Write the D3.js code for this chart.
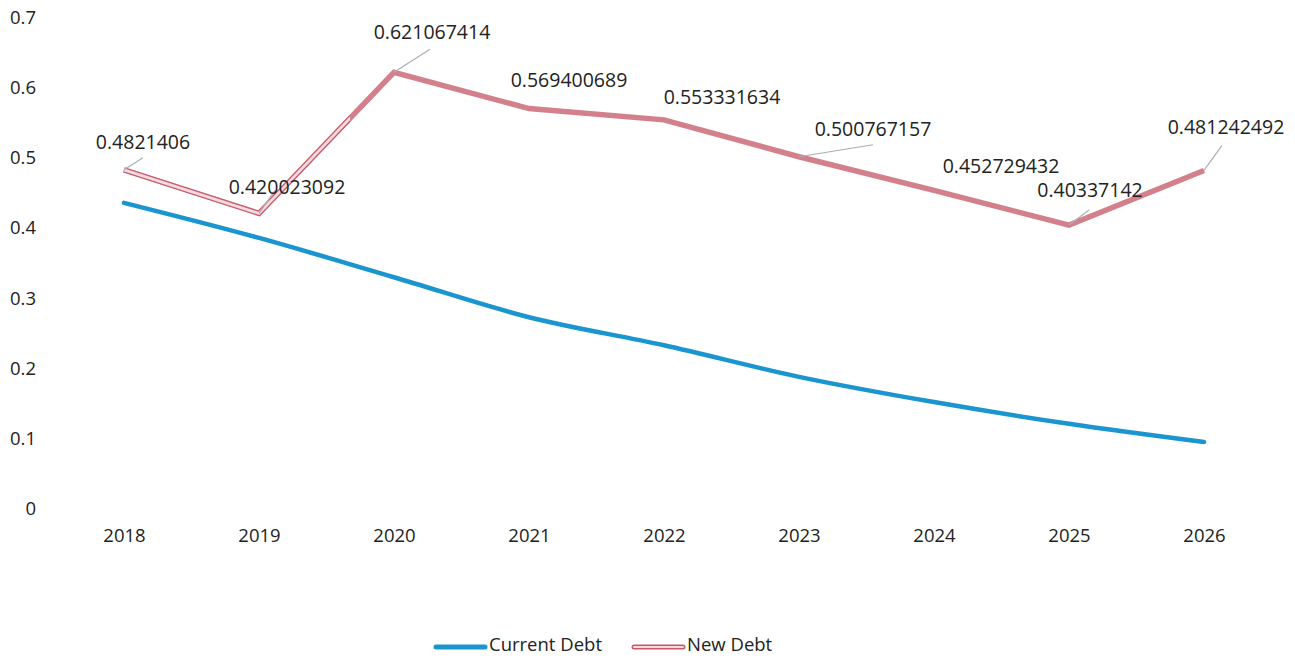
<!DOCTYPE html>
<html>
<head>
<meta charset="utf-8">
<script src="https://cdn.jsdelivr.net/npm/d3@7"></script>
<style>
  html, body { margin: 0; padding: 0; background: #ffffff; }
  svg { display: block; font-family: "Open Sans", sans-serif; }
</style>
</head>
<body>
<svg id="chart" width="1295" height="658"></svg>
<script>
// ---- data ----
const years = ["2018", "2019", "2020", "2021", "2022", "2023", "2024", "2025", "2026"];
const currentDebt = [0.435, 0.385, 0.329, 0.272, 0.232, 0.187, 0.151, 0.120, 0.094];
const newDebt = [0.4821406, 0.420023092, 0.621067414, 0.569400689, 0.553331634, 0.500767157, 0.452729432, 0.40337142, 0.481242492];
const newDebtLabels = ["0.4821406", "0.420023092", "0.621067414", "0.569400689", "0.553331634", "0.500767157", "0.452729432", "0.40337142", "0.481242492"];
const yTicks = [0, 0.1, 0.2, 0.3, 0.4, 0.5, 0.6, 0.7];
const seriesNames = ["Current Debt", "New Debt"];

// ---- layout (label placement relative to points) ----
const labelOffsets = [[19, -28], [28, -26], [38, -40], [40, -28], [58, -23], [74, -28], [67, -24], [21, -35], [22, -43]];
const leaderOffsets = [[19, -12], [16, -23], [36, -23], null, null, [74, -12], null, [20, -15], [18, -25]];

const blue = "#1a95cf";
const pink = "#d3808c";
const pinkDark = "#c8586b";

const svg = d3.select("#chart");

const x = d3.scalePoint().domain(years).range([124, 1204]);
const y = d3.scaleLinear().domain([0, 0.7]).range([508, 17]);

// y axis
const yAxis = svg.append("g")
  .attr("transform", "translate(36,0)")
  .call(d3.axisLeft(y).tickValues(yTicks).tickSize(0).tickPadding(0)
    .tickFormat(d => d === 0 ? "0" : d3.format(".1f")(d)));
yAxis.select(".domain").remove();
yAxis.selectAll("text")
  .attr("font-family", "Open Sans, sans-serif")
  .attr("font-size", "18.5px")
  .attr("fill", "#222")
  .attr("dy", "0.35em");

// x axis
const xAxis = svg.append("g")
  .attr("transform", "translate(0,536)")
  .call(d3.axisBottom(x).tickSize(0).tickPadding(0));
xAxis.select(".domain").remove();
xAxis.selectAll("text")
  .attr("font-family", "Open Sans, sans-serif")
  .attr("font-size", "18.5px")
  .attr("fill", "#222")
  .attr("dy", "0.35em");

// current debt line
const curLine = d3.line()
  .x((d, i) => x(years[i]))
  .y(d => y(d))
  .curve(d3.curveMonotoneX);

svg.append("path")
  .datum(currentDebt)
  .attr("d", curLine)
  .attr("fill", "none")
  .attr("stroke", blue)
  .attr("stroke-width", 4.5)
  .attr("stroke-linecap", "round")
  .attr("stroke-linejoin", "round");

// new debt line
const newLine = d3.line()
  .x((d, i) => x(years[i]))
  .y(d => y(d));

svg.append("path")
  .datum(newDebt)
  .attr("d", newLine)
  .attr("fill", "none")
  .attr("stroke", pink)
  .attr("stroke-width", 5.5)
  .attr("stroke-linejoin", "miter");

// outlined look on the first part of the line
svg.append("clipPath").attr("id", "outlineClip")
  .append("rect").attr("x", 0).attr("y", 0).attr("width", 350).attr("height", 600);

const outlined = svg.append("g").attr("clip-path", "url(#outlineClip)");
outlined.append("path")
  .datum(newDebt)
  .attr("d", newLine)
  .attr("fill", "none")
  .attr("stroke", pinkDark)
  .attr("stroke-width", 5);
outlined.append("path")
  .datum(newDebt)
  .attr("d", newLine)
  .attr("fill", "none")
  .attr("stroke", "#f3dade")
  .attr("stroke-width", 2.8);

// leader lines
svg.append("g").selectAll("line")
  .data(newDebt.map((v, i) => ({ v, i })).filter(d => leaderOffsets[d.i]))
  .join("line")
  .attr("x1", d => x(years[d.i]))
  .attr("y1", d => y(d.v))
  .attr("x2", d => x(years[d.i]) + leaderOffsets[d.i][0])
  .attr("y2", d => y(d.v) + leaderOffsets[d.i][1])
  .attr("stroke", "#a8b0b4")
  .attr("stroke-width", 1.2);

// data labels
svg.append("g").selectAll("text")
  .data(newDebt)
  .join("text")
  .attr("x", (d, i) => x(years[i]) + labelOffsets[i][0])
  .attr("y", (d, i) => y(d) + labelOffsets[i][1])
  .attr("dy", "0.35em")
  .attr("text-anchor", "middle")
  .attr("font-size", "19.5px")
  .attr("fill", "#222")
  .text((d, i) => newDebtLabels[i]);

// legend
const legend = svg.append("g").attr("transform", "translate(0,645)");
const legendItems = [
  { name: seriesNames[0], x0: 436, color: blue, outline: false },
  { name: seriesNames[1], x0: 634, color: pinkDark, outline: true }
];
legendItems.forEach(it => {
  legend.append("line")
    .attr("x1", it.x0).attr("x2", it.x0 + 49).attr("y1", 2).attr("y2", 2)
    .attr("stroke", it.color).attr("stroke-width", 5).attr("stroke-linecap", "round");
  if (it.outline) {
    legend.append("line")
      .attr("x1", it.x0).attr("x2", it.x0 + 49).attr("y1", 2).attr("y2", 2)
      .attr("stroke", "#f3dade").attr("stroke-width", 2).attr("stroke-linecap", "round");
  }
  legend.append("text")
    .attr("x", it.x0 + 53).attr("y", 0).attr("dy", "0.35em")
    .attr("font-size", "18.5px").attr("fill", "#222")
    .text(it.name);
});
</script>
</body>
</html>
